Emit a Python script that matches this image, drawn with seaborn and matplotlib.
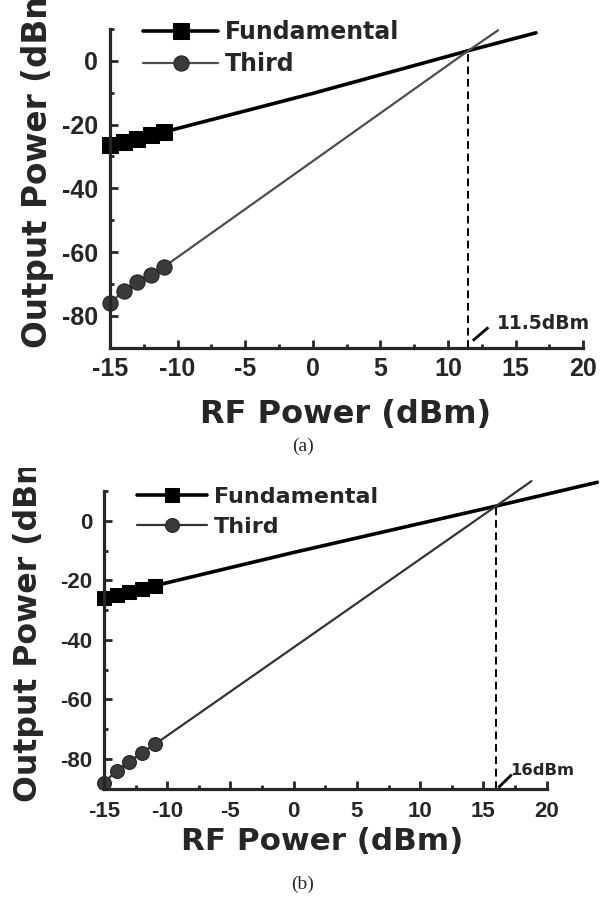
import numpy as np
import pandas as pd
import matplotlib
matplotlib.use("Agg")
import matplotlib.pyplot as plt
import seaborn as sns
from matplotlib.ticker import MultipleLocator, FixedLocator, FixedFormatter
from matplotlib.font_manager import FontProperties
from matplotlib.transforms import Bbox, TransformedBbox

# ---------------- data ----------------
rf_meas = [-15, -14, -13, -12, -11]
series_names = ["Fundamental", "Third"]

fund_a = [-26.3, -25.5, -24.4, -23.3, -22.3]
third_a = [-76.0, -72.2, -69.4, -67.2, -64.6]
fit_fund_a_x = [-11, 0, 11.5, 16.5]
fit_fund_a_y = [-22.3, -10.2, 3.2, 8.8]
fit_third_a_x = [-11, 11.5, 13.7]
fit_third_a_y = [-64.6, 3.2, 9.6]
ip3_a_x, ip3_a_y = 11.5, 3.2
ip3_a_label = "11.5dBm"

fund_b = [-25.8, -24.9, -24.0, -22.8, -21.8]
third_b = [-88.0, -84.0, -81.0, -78.0, -75.2]
fit_fund_b_x = [-11, 0, 16, 24]
fit_fund_b_y = [-21.8, -10.6, 5.0, 13.0]
fit_third_b_x = [-11, 16, 18.8]
fit_third_b_y = [-75.2, 5.0, 13.4]
ip3_b_x, ip3_b_y = 16, 5.0
ip3_b_label = "16dBm"

x_ticks = [-15, -10, -5, 0, 5, 10, 15, 20]
x_ticklabels = ["-15", "-10", "-5", "0", "5", "10", "15", "20"]
y_ticks = [-80, -60, -40, -20, 0]
y_ticklabels = ["-80", "-60", "-40", "-20", "0"]
xlabel = "RF Power (dBm)"
ylabel = "Output Power (dBm)"
captions = ["(a)", "(b)"]

# ---------------- style ----------------
sns.set_style("ticks")
plt.rcParams["font.family"] = ["DejaVu Sans"]
plt.rcParams["axes.unicode_minus"] = False

W, H = 610, 900
fig = plt.figure(figsize=(W / 100, H / 100), dpi=100)


def fx(px):
    return px / W


def fy(py):
    return 1 - py / H


FUND_C = "#000000"
THIRD_C = "#4d4d4d"


def draw_panel(rect, fund, third, ffx, ffy, ftx, fty, ipx, ipy, iplabel,
               tick_fs, tick_pad_x, leg_fs, leg_anchor, handlelen, leg_space, ms,
               ylab_pos, ylab_fs, xlab_pos, xlab_fs, arrow, txt_pos, txt_fs,
               clip_top=None, third_col=THIRD_C):
    ax = fig.add_axes(rect)
    meas = pd.DataFrame({
        "rf": rf_meas * 2,
        "out": list(fund) + list(third),
        "series": [series_names[0]] * len(rf_meas) + [series_names[1]] * len(rf_meas),
    })
    fit = pd.DataFrame({
        "rf": list(ffx) + list(ftx),
        "out": list(ffy) + list(fty),
        "series": [series_names[0]] * len(ffx) + [series_names[1]] * len(ftx),
    })
    # extrapolated fit lines
    sns.lineplot(data=fit[fit.series == series_names[0]], x="rf", y="out",
                 color=FUND_C, lw=2.6, ax=ax, legend=False, clip_on=False,
                 estimator=None, sort=False)
    sns.lineplot(data=fit[fit.series == series_names[1]], x="rf", y="out",
                 color=third_col, lw=1.6, ax=ax, legend=False, clip_on=False,
                 estimator=None, sort=False)
    # measured points
    h_f = sns.lineplot(data=meas[meas.series == series_names[0]], x="rf", y="out",
                       color=FUND_C, lw=2.6, marker="s", ms=ms, mec="black",
                       mfc="black", ax=ax, legend=False, clip_on=False,
                       estimator=None).lines[-1]
    h_t = sns.lineplot(data=meas[meas.series == series_names[1]], x="rf", y="out",
                       color=third_col, lw=1.6, marker="o", ms=ms, mec="#222222",
                       mfc="#3a3a3a", ax=ax, legend=False, clip_on=False,
                       estimator=None).lines[-1]

    # dashed IP3 marker
    ax.plot([ipx, ipx], [-90, ipy], ls=(0, (4, 2.4)), color="black", lw=1.4)
    ax.plot(arrow[0], arrow[1], color="black", lw=2.0, solid_capstyle="butt",
            clip_on=False)
    ax.text(txt_pos[0], txt_pos[1], iplabel, fontsize=txt_fs, fontweight="bold",
            family="DejaVu Sans", ha="left", va="baseline", clip_on=False)

    ax.set_xlim(-15, 20)
    ax.set_ylim(-90, 10)
    ax.xaxis.set_major_locator(FixedLocator(x_ticks))
    ax.xaxis.set_major_formatter(FixedFormatter(x_ticklabels))
    ax.yaxis.set_major_locator(FixedLocator(y_ticks))
    ax.yaxis.set_major_formatter(FixedFormatter(y_ticklabels))
    ax.xaxis.set_minor_locator(MultipleLocator(2.5))
    ax.yaxis.set_minor_locator(FixedLocator([-90, -70, -50, -30, -10, 10]))
    sns.despine(ax=ax)
    for s in ("left", "bottom"):
        ax.spines[s].set_linewidth(2.3)
    ax.tick_params(which="major", direction="in", length=6, width=2.0)
    ax.tick_params(which="minor", direction="in", length=3, width=2.0)
    ax.tick_params(axis="x", which="major", pad=tick_pad_x)
    ax.tick_params(axis="y", which="major", pad=8.5)
    for lab in ax.get_xticklabels() + ax.get_yticklabels():
        lab.set_fontfamily("Liberation Sans")
        lab.set_fontweight("bold")
        lab.set_fontsize(tick_fs)

    ax.set_xlabel(xlabel, fontsize=xlab_fs, fontweight="bold")
    ax.xaxis.set_label_coords(fx(xlab_pos[0]), fy(xlab_pos[1]),
                              transform=fig.transFigure)
    ax.xaxis.label.set_va("top")

    ax.set_ylabel(ylabel, fontsize=ylab_fs, fontweight="bold")
    ax.yaxis.set_label_coords(fx(ylab_pos[0]), fy(ylab_pos[1]),
                              transform=fig.transFigure)
    ax.yaxis.label.set_ha("left")
    ax.yaxis.label.set_va("baseline")
    if clip_top is not None:
        cb = TransformedBbox(Bbox([[0, 0], [1, fy(clip_top)]]), fig.transFigure)
        ax.yaxis.label.set_clip_box(cb)
        ax.yaxis.label.set_clip_on(True)

    ax.legend([h_f, h_t], series_names, loc="upper left",
              bbox_to_anchor=(fx(leg_anchor[0]), fy(leg_anchor[1])),
              bbox_transform=fig.transFigure, frameon=False,
              borderpad=0, borderaxespad=0, handlelength=handlelen,
              handletextpad=0.3, labelspacing=leg_space, numpoints=1,
              prop=FontProperties(family="DejaVu Sans", weight="bold",
                                  size=leg_fs))
    return ax


# panel (a): axes px left 110, right 583, top 29, bottom 347.7
draw_panel([fx(110), fy(347.7), (583.3 - 110) / W, (347.7 - 29) / H],
           fund_a, third_a, fit_fund_a_x, fit_fund_a_y, fit_third_a_x, fit_third_a_y,
           ip3_a_x, ip3_a_y, ip3_a_label,
           tick_fs=18, tick_pad_x=6.5, leg_fs=17, leg_anchor=(143, 20),
           handlelen=3.18, leg_space=0.33, ms=11, ylab_pos=(47, 348), ylab_fs=23.5,
           xlab_pos=(346, 399), xlab_fs=23,
           arrow=([11.83, 12.98], [-87.8, -83.6]), txt_pos=(13.6, -84.2),
           txt_fs=13.5)

# panel (b): axes px left 104, right 546.7, top 491.2, bottom 788.5
draw_panel([fx(104), fy(788.5), (546.7 - 104) / W, (788.5 - 491.2) / H],
           fund_b, third_b, fit_fund_b_x, fit_fund_b_y, fit_third_b_x, fit_third_b_y,
           ip3_b_x, ip3_b_y, ip3_b_label,
           tick_fs=16, tick_pad_x=9, leg_fs=16, leg_anchor=(137, 487),
           handlelen=3.15, leg_space=0.44, ms=10, ylab_pos=(37, 801.5), ylab_fs=22.7,
           xlab_pos=(322, 827), xlab_fs=22.3,
           arrow=([16.18, 17.24], [-89.7, -85.3]), txt_pos=(17.1, -85.3),
           txt_fs=11.8, clip_top=468, third_col="#333333")

fig.text(fx(303), fy(446), captions[0], family="Liberation Serif", fontsize=14,
         ha="center", va="center")
fig.text(fx(303), fy(884), captions[1], family="Liberation Serif", fontsize=14,
         ha="center", va="center")

fig.savefig("out.png", dpi=100)
